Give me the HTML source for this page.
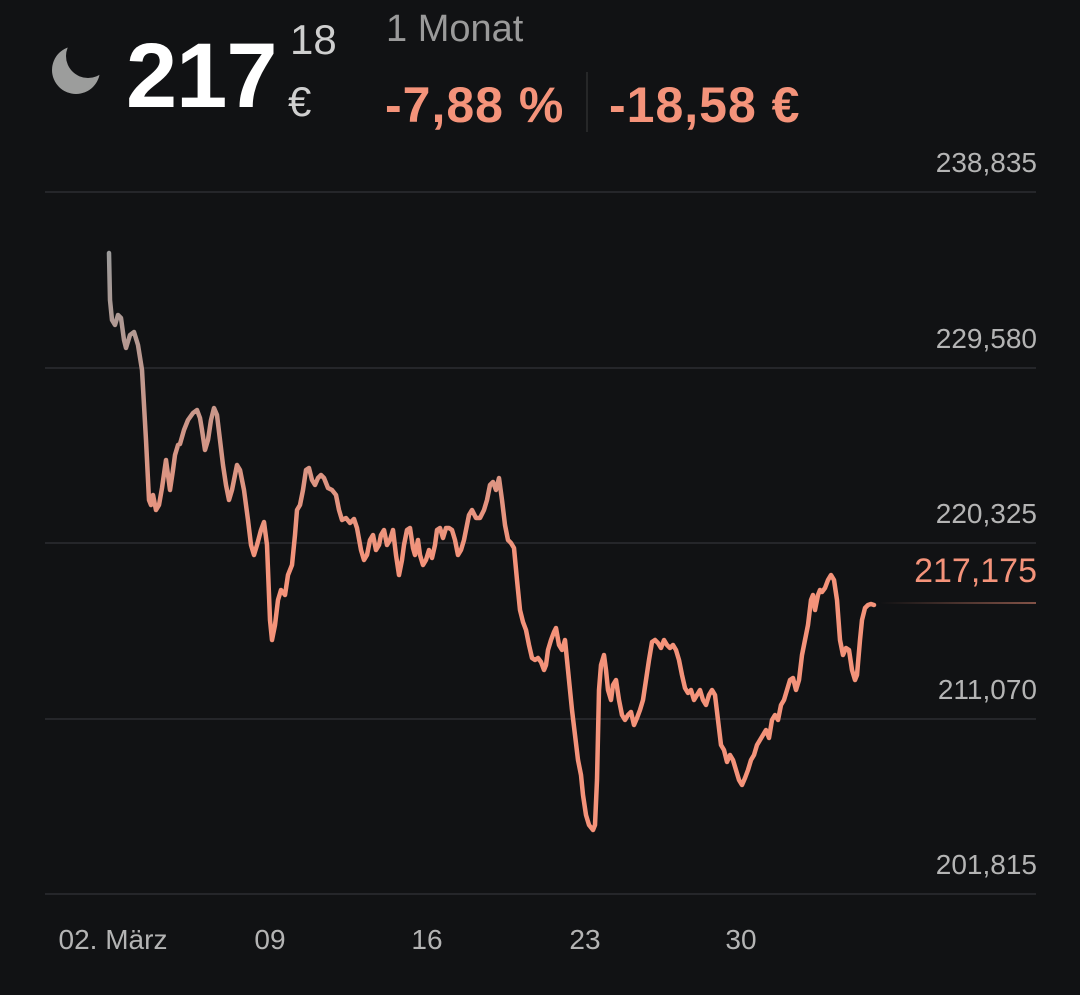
<!DOCTYPE html>
<html><head><meta charset="utf-8"><style>
html,body{margin:0;padding:0;background:#111214;width:1080px;height:995px;overflow:hidden;font-family:"Liberation Sans",sans-serif;}
.t{position:absolute;white-space:nowrap;}
</style></head><body>
<div class="t" style="left:50px;top:44px;width:52px;height:52px;">
<svg width="52" height="52"><defs><mask id="m"><rect width="52" height="52" fill="#fff"/><circle cx="38" cy="12" r="22" fill="#000"/></mask></defs><circle cx="26" cy="26" r="24" fill="#9c9d9c" mask="url(#m)"/></svg></div>
<div class="t" style="left:126px;top:24px;font-size:92px;font-weight:bold;color:#fff;letter-spacing:-1px;">217</div>
<div class="t" style="left:290px;top:16px;font-size:42px;color:#cfcfcf;">18</div>
<div class="t" style="left:288px;top:78px;font-size:42px;color:#cfcfcf;">€</div>
<div class="t" style="left:386px;top:8px;font-size:38px;color:#9a9a9a;">1 Monat</div>
<div class="t" style="left:385px;top:76px;font-size:50px;font-weight:bold;color:#f4937a;letter-spacing:1px;">-7,88 %</div>
<div class="t" style="left:586px;top:72px;width:2px;height:60px;background:#262728;"></div>
<div class="t" style="left:609px;top:76px;font-size:50px;font-weight:bold;color:#f4937a;letter-spacing:1px;">-18,58 €</div>
<svg class="t" style="left:0;top:0" width="1080" height="995">
<defs><linearGradient id="g" x1="0" y1="250" x2="0" y2="560" gradientUnits="userSpaceOnUse"><stop offset="0" stop-color="#9b9b9b"/><stop offset="1" stop-color="#f4937a"/></linearGradient>
<linearGradient id="p" x1="880" x2="1036" y1="0" y2="0" gradientUnits="userSpaceOnUse"><stop offset="0" stop-color="#f4937a" stop-opacity="0"/><stop offset="1" stop-color="#f4937a" stop-opacity="0.5"/></linearGradient></defs>
<g stroke="#25262a" stroke-width="2">
<line x1="45" x2="1036" y1="192" y2="192"/><line x1="45" x2="1036" y1="368" y2="368"/><line x1="45" x2="1036" y1="543" y2="543"/><line x1="45" x2="1036" y1="719" y2="719"/><line x1="45" x2="1036" y1="894" y2="894"/></g>
<line x1="880" x2="1036" y1="603" y2="603" stroke="url(#p)" stroke-width="2"/>
<g font-size="28" fill="#b4b4b4" text-anchor="end" font-family="Liberation Sans">
<text x="1037" y="172">238,835</text><text x="1037" y="348">229,580</text><text x="1037" y="523">220,325</text><text x="1037" y="699">211,070</text><text x="1037" y="874">201,815</text>
<text x="1037" y="582" fill="#f4937a" font-size="34">217,175</text></g>
<g font-size="28" fill="#b4b4b4" text-anchor="middle" font-family="Liberation Sans">
<text x="113" y="949">02. März</text><text x="270" y="949">09</text><text x="427" y="949">16</text><text x="585" y="949">23</text><text x="741" y="949">30</text></g>
<polyline fill="none" stroke="url(#g)" stroke-width="4.5" stroke-linejoin="round" stroke-linecap="round" points="109,253 110,300 112,320 115,325 118,315 121,318 124,340 126,348 130,335 134,332 138,345 142,370 146,440 149,500 151,505 153,495 156,510 159,505 162,488 166,460 168,475 170,490 173,470 175,455 178,445 180,444 184,430 188,420 193,413 197,410 200,418 202,430 205,450 208,440 211,420 214,408 217,415 220,440 223,465 226,485 229,500 232,490 237,465 240,470 244,490 248,520 251,545 254,555 257,545 261,530 264,522 267,545 270,620 272,640 275,625 278,600 281,590 285,595 288,575 292,565 295,535 297,510 300,505 303,490 306,470 309,468 312,480 315,485 318,478 321,475 324,478 328,488 332,490 336,495 339,510 342,520 346,518 350,523 354,519 357,528 361,550 364,560 367,555 370,540 373,535 376,550 379,545 381,535 384,530 387,545 390,540 393,530 396,555 399,575 402,560 404,545 407,530 410,528 413,548 415,555 418,540 420,555 423,565 426,560 429,550 432,558 435,545 437,530 440,528 443,538 446,528 449,528 452,530 455,540 458,555 461,550 464,540 467,525 469,515 472,510 476,518 480,518 484,510 487,500 490,485 493,482 496,490 499,478 502,500 505,525 508,540 511,543 514,548 517,580 520,610 523,622 526,630 529,645 532,658 535,660 538,658 541,662 544,670 546,665 548,650 551,640 554,632 556,628 559,645 562,650 565,640 567,660 569,680 572,710 575,735 578,760 581,775 583,795 586,815 589,825 593,830 595,825 597,780 599,690 601,665 604,655 606,670 608,690 611,700 613,685 616,680 619,700 622,715 625,720 628,715 631,712 634,725 637,718 640,710 643,700 646,680 649,660 652,642 655,640 658,643 661,648 664,640 667,645 670,648 673,645 676,650 679,660 682,675 685,688 688,693 691,690 694,700 697,695 700,690 703,700 706,705 709,695 712,690 715,695 718,720 721,745 724,750 727,762 730,755 733,760 736,770 739,780 742,785 745,778 748,770 751,760 754,755 757,745 760,740 763,735 766,730 769,738 772,720 775,715 778,720 781,705 784,700 787,690 790,680 793,678 796,690 799,680 802,655 805,640 808,625 811,600 813,595 815,610 818,595 820,590 822,592 825,588 828,580 831,575 834,580 837,600 840,640 843,655 846,648 849,650 852,670 855,680 857,675 860,640 862,620 865,608 868,605 871,604 874,605"/>
</svg>
</body></html>
